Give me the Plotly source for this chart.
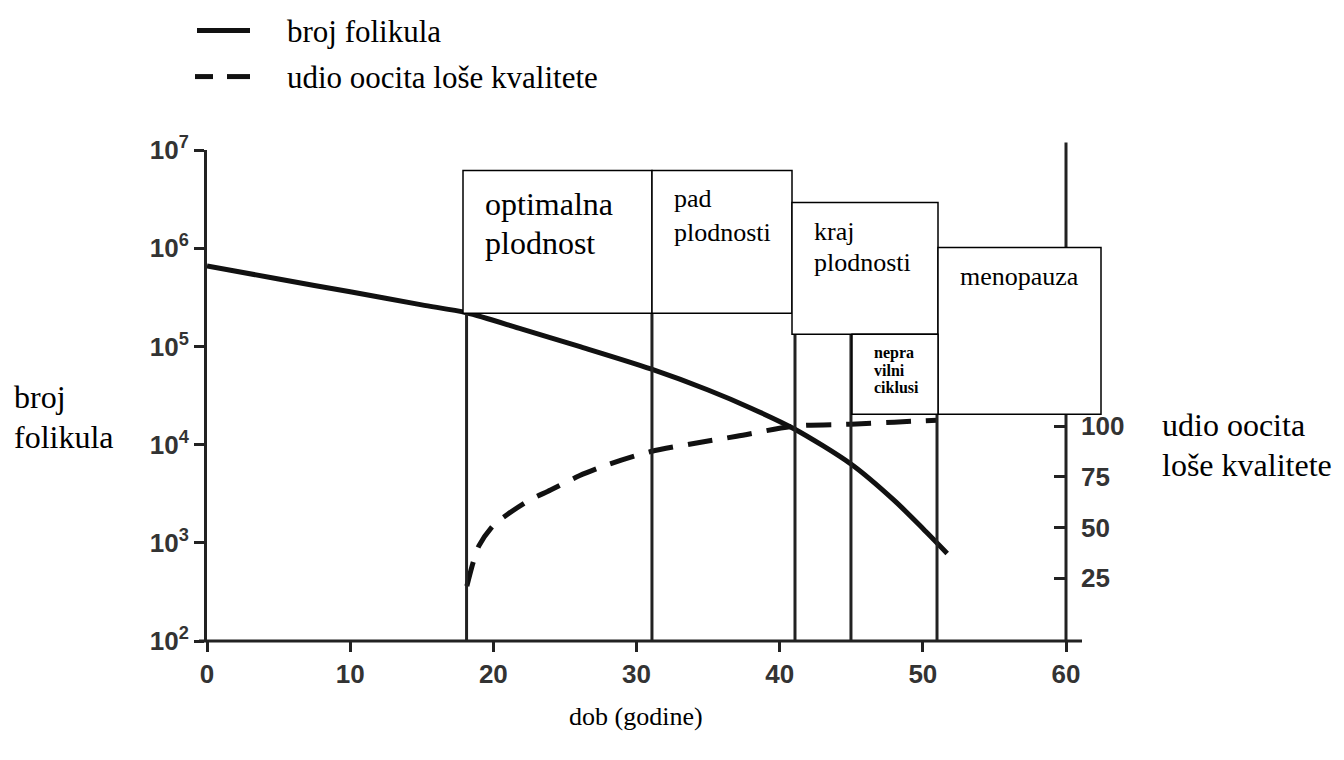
import plotly.graph_objects as go

# ---------------- data ----------------
ages_follicles = [0, 5, 10, 15, 18.13, 22, 26, 31, 35, 38, 41, 45, 48, 50, 51.7]
follicles = [6.6e5, 4.85e5, 3.6e5, 2.65e5, 2.2e5, 1.5e5, 1.0e5, 5.9e4, 3.6e4, 2.35e4,
             1.45e4, 6.3e3, 2.7e3, 1.4e3, 7.8e2]

ages_quality = [18.15, 18.6, 19.0, 20.0, 21.0, 22.4, 24.0, 26.0, 28.0,
                31.0, 34.0, 37.0, 41.0, 45.0, 48.0, 51.0]
poor_quality = [21, 33, 41, 51, 56.5, 63, 68.5, 75.5, 81,
                87.5, 91.5, 95, 100, 101, 102, 103]

boundary_ages = [18.13, 31.08, 41.07, 44.98, 50.99]

x_ticks = [0, 10, 20, 30, 40, 50, 60]
y_ticks = [1e2, 1e3, 1e4, 1e5, 1e6, 1e7]
y_ticktext = ["10<sup>2</sup>", "10<sup>3</sup>", "10<sup>4</sup>", "10<sup>5</sup>",
              "10<sup>6</sup>", "10<sup>7</sup>"]
y2_ticks = [25, 50, 75, 100]

legend_labels = ["broj folikula", "udio oocita loše kvalitete"]

# ---------------- layout geometry (pixels) ----------------
W, H = 1344, 760
L, R, T, B = 207, 1066, 149.5, 641


def px(X):
    return (X - L) / (R - L)


def py(Y):
    return (B - Y) / (B - T)


SERIF = "Liberation Serif"
SANS = "Liberation Sans"
INK = "#111111"
AX = "#222222"

fig = go.Figure()

fig.add_trace(go.Scatter(
    x=ages_follicles, y=follicles, mode="lines", name=legend_labels[0],
    line=dict(color=INK, width=5, shape="spline", smoothing=0.8),
    yaxis="y", showlegend=False, hoverinfo="skip"))

fig.add_trace(go.Scatter(
    x=ages_quality, y=poor_quality, mode="lines", name=legend_labels[1],
    line=dict(color=INK, width=5, dash="25px,15px", shape="spline", smoothing=0.8),
    yaxis="y2", showlegend=False, hoverinfo="skip"))

shapes = []
# vertical phase boundaries (from axis up to box bottoms)
tops = [313, 313, 334, 334, 414]
for a, t in zip(boundary_ages, tops):
    shapes.append(dict(type="line", xref="x", yref="paper", x0=a, x1=a,
                       y0=0, y1=py(t), line=dict(color=AX, width=3), layer="above"))

# x-axis line extended slightly past 60, right axis line extended above top
shapes.append(dict(type="line", xref="paper", yref="paper", x0=px(199), x1=px(1082),
                   y0=0, y1=0, line=dict(color=AX, width=3)))
shapes.append(dict(type="line", xref="paper", yref="paper", x0=1, x1=1,
                   y0=0, y1=py(142), line=dict(color=AX, width=3)))

# phase boxes (pixels)
boxes = [(463, 170, 652, 313), (652, 170, 792, 313), (792, 202, 938, 334),
         (938, 247, 1101, 414), (852, 334, 938, 414)]
for (x0, y0, x1, y1) in boxes:
    shapes.append(dict(type="rect", xref="paper", yref="paper",
                       x0=px(x0), x1=px(x1), y0=py(y1), y1=py(y0),
                       fillcolor="white", line=dict(color="black", width=1.5),
                       layer="above"))

# legend samples
shapes.append(dict(type="line", xref="paper", yref="paper", x0=px(197), x1=px(250),
                   y0=py(30), y1=py(30), line=dict(color=INK, width=5)))
shapes.append(dict(type="line", xref="paper", yref="paper", x0=px(195), x1=px(213),
                   y0=py(76), y1=py(76), line=dict(color=INK, width=5)))
shapes.append(dict(type="line", xref="paper", yref="paper", x0=px(227), x1=px(250),
                   y0=py(76), y1=py(76), line=dict(color=INK, width=5)))

annotations = []


def note(text, X, Y, size, anchor="left", bold=False):
    annotations.append(dict(
        text=("<b>%s</b>" % text) if bold else text,
        xref="paper", yref="paper", x=px(X), y=py(Y),
        xanchor=anchor, yanchor="middle", showarrow=False, align="left",
        font=dict(family=SERIF, size=size, color="black")))


note(legend_labels[0], 285, 31, 31)
note(legend_labels[1], 285, 77, 31)

note("optimalna", 483, 204, 32)
note("plodnost", 483, 243, 32)
note("pad", 672, 198, 26)
note("plodnosti", 672, 232, 26)
note("kraj", 812, 231, 26)
note("plodnosti", 812, 262, 26)
note("menopauza", 958, 276, 26)
note("nepra", 872, 353, 16, bold=True)
note("vilni", 872, 370, 16, bold=True)
note("ciklusi", 872, 387, 16, bold=True)

note("broj", 12, 397, 32)
note("folikula", 12, 437, 32)
note("udio oocita", 1160, 425, 32)
note("loše kvalitete", 1160, 465, 32)
note("dob (godine)", 636, 717, 26, anchor="center")

tickfont = dict(family=SANS, size=26, color="#333333", weight="bold")

fig.update_layout(
    width=W, height=H,
    margin=dict(l=L, r=W - R, t=T, b=H - B, pad=0),
    paper_bgcolor="white", plot_bgcolor="white",
    showlegend=False,
    hovermode=False,
    xaxis=dict(range=[0, 60], tickvals=x_ticks, ticks="outside", ticklen=10,
               tickwidth=3, tickcolor=AX, showline=False, showgrid=False,
               zeroline=False, tickfont=tickfont),
    yaxis=dict(type="log", range=[2, 7], tickvals=y_ticks, ticktext=y_ticktext,
               ticks="outside", ticklen=10, tickwidth=3, tickcolor=AX,
               showline=True, linewidth=3, linecolor=AX, showgrid=False,
               zeroline=False, tickfont=tickfont),
    yaxis2=dict(overlaying="y", side="right", range=[-6.07, 236.4],
                tickvals=y2_ticks, ticks="inside", ticklen=12, tickwidth=3,
                tickcolor=AX, showline=False, showgrid=False, zeroline=False,
                tickfont=tickfont, ticklabelstandoff=14),
    shapes=shapes, annotations=annotations,
)

fig.write_html("out.html", config={"displayModeBar": False},
               post_script="document.body.style.margin='0';document.body.style.overflow='hidden';")
